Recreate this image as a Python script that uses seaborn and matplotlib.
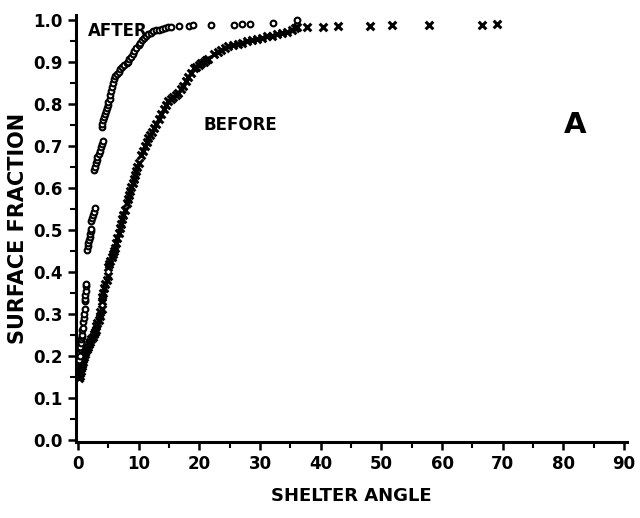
import matplotlib
matplotlib.use("Agg")
import matplotlib.pyplot as plt
from matplotlib.ticker import MultipleLocator
import seaborn as sns
import pandas as pd

after_x = [0.2, 0.3, 0.3, 0.4, 0.5, 0.5, 0.6, 0.7, 0.7, 0.8, 0.9, 1.0, 1.0, 1.1, 1.1, 1.2, 1.2, 1.3, 1.3, 1.4,
           1.5, 1.6, 1.7, 1.8, 1.9, 2.0, 2.1, 2.2,
           2.2, 2.3, 2.5, 2.6, 2.8,
           2.6, 2.8, 2.9, 3.1, 3.2, 3.4, 3.6, 3.8, 4.0, 4.2,
           3.9, 4.0, 4.1, 4.3, 4.4, 4.6, 4.7, 4.9, 5.0, 5.2,
           5.2, 5.4, 5.6, 5.8, 6.0,
           6.1, 6.4, 6.7, 7.0, 7.3, 7.6, 8.0, 8.3,
           8.4, 8.7, 9.0, 9.3, 9.6, 10.0,
           10.3, 10.6, 10.9, 11.2, 11.6,
           12.0, 12.4, 12.8, 13.3, 13.8, 14.3, 14.9,
           15.4, 16.7, 18.3, 19.0, 21.9, 25.7, 27.1, 28.4, 32.2, 36.1]
after_y = [0.19, 0.20, 0.215, 0.22, 0.23, 0.24, 0.245, 0.25, 0.26, 0.265, 0.28, 0.29, 0.30, 0.31, 0.33, 0.335, 0.345, 0.355, 0.365, 0.37,
           0.452, 0.46, 0.468, 0.475, 0.483, 0.49, 0.496, 0.502,
           0.52, 0.527, 0.535, 0.543, 0.552,
           0.642, 0.65, 0.658, 0.665, 0.673, 0.68, 0.688, 0.696, 0.703, 0.71,
           0.745, 0.752, 0.76, 0.767, 0.775, 0.783, 0.79, 0.797, 0.803, 0.81,
           0.82, 0.83, 0.84, 0.85, 0.858,
           0.866, 0.871, 0.876, 0.882, 0.887, 0.892, 0.897, 0.90,
           0.905, 0.912, 0.918, 0.925, 0.932, 0.94,
           0.945, 0.951, 0.956, 0.961, 0.966,
           0.969, 0.972, 0.974, 0.976, 0.978, 0.98, 0.982,
           0.983, 0.984, 0.985, 0.986, 0.987, 0.988, 0.989, 0.99, 0.991, 0.998]

before_x = [0.2, 0.3, 0.4, 0.5, 0.5, 0.6, 0.7, 0.8, 0.9, 1.0, 1.1, 1.2, 1.4, 1.5,
            1.6, 1.8, 2.0, 2.2, 2.4, 2.6, 2.8,
            2.9, 3.0, 3.2, 3.4, 3.6, 3.7, 3.9,
            3.9, 4.0, 4.2, 4.3, 4.5, 4.7, 4.9,
            4.9, 5.1, 5.3, 5.6, 5.8, 6.0,
            6.1, 6.3, 6.5, 6.7, 6.9, 7.1, 7.3, 7.5, 7.7,
            8.0, 8.2, 8.4, 8.6, 8.8, 9.0, 9.2, 9.4, 9.6, 9.8, 10.0,
            10.4, 10.7, 11.0, 11.3, 11.6, 11.9, 12.2,
            12.5, 12.9, 13.3, 13.7, 14.1, 14.5, 14.9,
            15.3, 15.7, 16.1, 16.5,
            16.9, 17.3, 17.8, 18.2, 18.6, 19.1,
            19.5, 19.9, 20.3, 20.7, 21.1, 21.4,
            22.4, 23.0, 23.6, 24.2, 24.7, 25.5, 26.3, 27.1, 27.9, 28.7, 29.5, 30.4, 31.2, 32.0, 32.8, 33.7, 34.5, 35.2, 35.8,
            36.1, 37.7, 40.4, 42.8, 48.2, 51.8, 57.8, 66.5, 69.1]
before_y = [0.146, 0.152, 0.158, 0.163, 0.17, 0.175, 0.18, 0.186, 0.192, 0.197, 0.203, 0.208, 0.213, 0.217,
            0.221, 0.227, 0.233, 0.239, 0.245, 0.251, 0.257,
            0.262, 0.27, 0.278, 0.286, 0.295, 0.303, 0.31,
            0.33, 0.34, 0.35, 0.36, 0.37, 0.38, 0.39,
            0.41, 0.418, 0.426, 0.434, 0.442, 0.45,
            0.457, 0.468, 0.48, 0.492, 0.503, 0.514, 0.525, 0.536, 0.547,
            0.564, 0.574, 0.583, 0.592, 0.601, 0.611, 0.62, 0.63, 0.639, 0.648, 0.658,
            0.678, 0.688, 0.698, 0.708, 0.718, 0.725, 0.732,
            0.742, 0.752, 0.764, 0.775, 0.786, 0.797, 0.807,
            0.812, 0.816, 0.821, 0.825,
            0.834, 0.843, 0.854, 0.863, 0.873, 0.884,
            0.888, 0.892, 0.896, 0.90, 0.903, 0.905,
            0.917, 0.922, 0.927, 0.932, 0.936, 0.939, 0.942, 0.945, 0.948, 0.951, 0.954, 0.957, 0.96, 0.962, 0.965, 0.967, 0.97, 0.974, 0.979,
            0.982, 0.982, 0.983, 0.984, 0.985, 0.986, 0.987, 0.988, 0.99]

x_ticks = [0, 10, 20, 30, 40, 50, 60, 70, 80, 90]
y_ticks = [0.0, 0.1, 0.2, 0.3, 0.4, 0.5, 0.6, 0.7, 0.8, 0.9, 1.0]

df_after = pd.DataFrame({"angle": after_x, "fraction": after_y})
df_before = pd.DataFrame({"angle": before_x, "fraction": before_y})

sns.set_style("ticks")
FONT = ["Liberation Sans Narrow", "DejaVu Sans"]
plt.rcParams["font.family"] = FONT
for key in ("text.color", "axes.labelcolor", "xtick.color", "ytick.color", "axes.edgecolor"):
    plt.rcParams[key] = "black"

fig = plt.figure(figsize=(6.4, 5.18), dpi=100)
ax = fig.add_axes([0.119, 0.147, 0.861, 0.825])

sns.scatterplot(data=df_before, x="angle", y="fraction", ax=ax, marker="x",
                color="black", s=30, linewidth=2.2, zorder=3)
sns.scatterplot(data=df_after, x="angle", y="fraction", ax=ax, marker="o",
                facecolor="white", edgecolor="black", s=17, linewidth=1.5, zorder=4)

ax.set_xlim(-0.3, 90.5)
ax.set_ylim(-0.005, 1.012)
ax.set_xticks(x_ticks)
ax.set_yticks(y_ticks)
ax.set_xticklabels([str(v) for v in x_ticks])
ax.set_yticklabels([f"{v:.1f}" for v in y_ticks])
ax.xaxis.set_minor_locator(MultipleLocator(5))
ax.yaxis.set_minor_locator(MultipleLocator(0.05))
ax.tick_params(axis="both", which="major", direction="out", length=6, width=1.8,
               labelsize=12, colors="black")
ax.tick_params(axis="both", which="minor", direction="out", length=4, width=1.5)
for lab in ax.get_xticklabels() + ax.get_yticklabels():
    lab.set_fontweight("bold")

sns.despine(ax=ax)
for sp in ("left", "bottom"):
    ax.spines[sp].set_linewidth(2.2)
    ax.spines[sp].set_color("black")

ax.set_xlabel("SHELTER ANGLE", fontsize=13, fontweight="bold", labelpad=10, color="black")
ax.set_ylabel("SURFACE FRACTION", fontsize=15, fontweight="bold", labelpad=4, color="black")

ax.text(1.6, 0.972, "AFTER", fontsize=12, fontweight="bold", va="center", ha="left", zorder=5)
ax.text(20.7, 0.748, "BEFORE", fontsize=12, fontweight="bold", va="center", ha="left")
ax.text(81.9, 0.748, "A", fontsize=21, fontweight="bold", va="center", ha="center")

fig.savefig("out.png", dpi=100, facecolor="white")
